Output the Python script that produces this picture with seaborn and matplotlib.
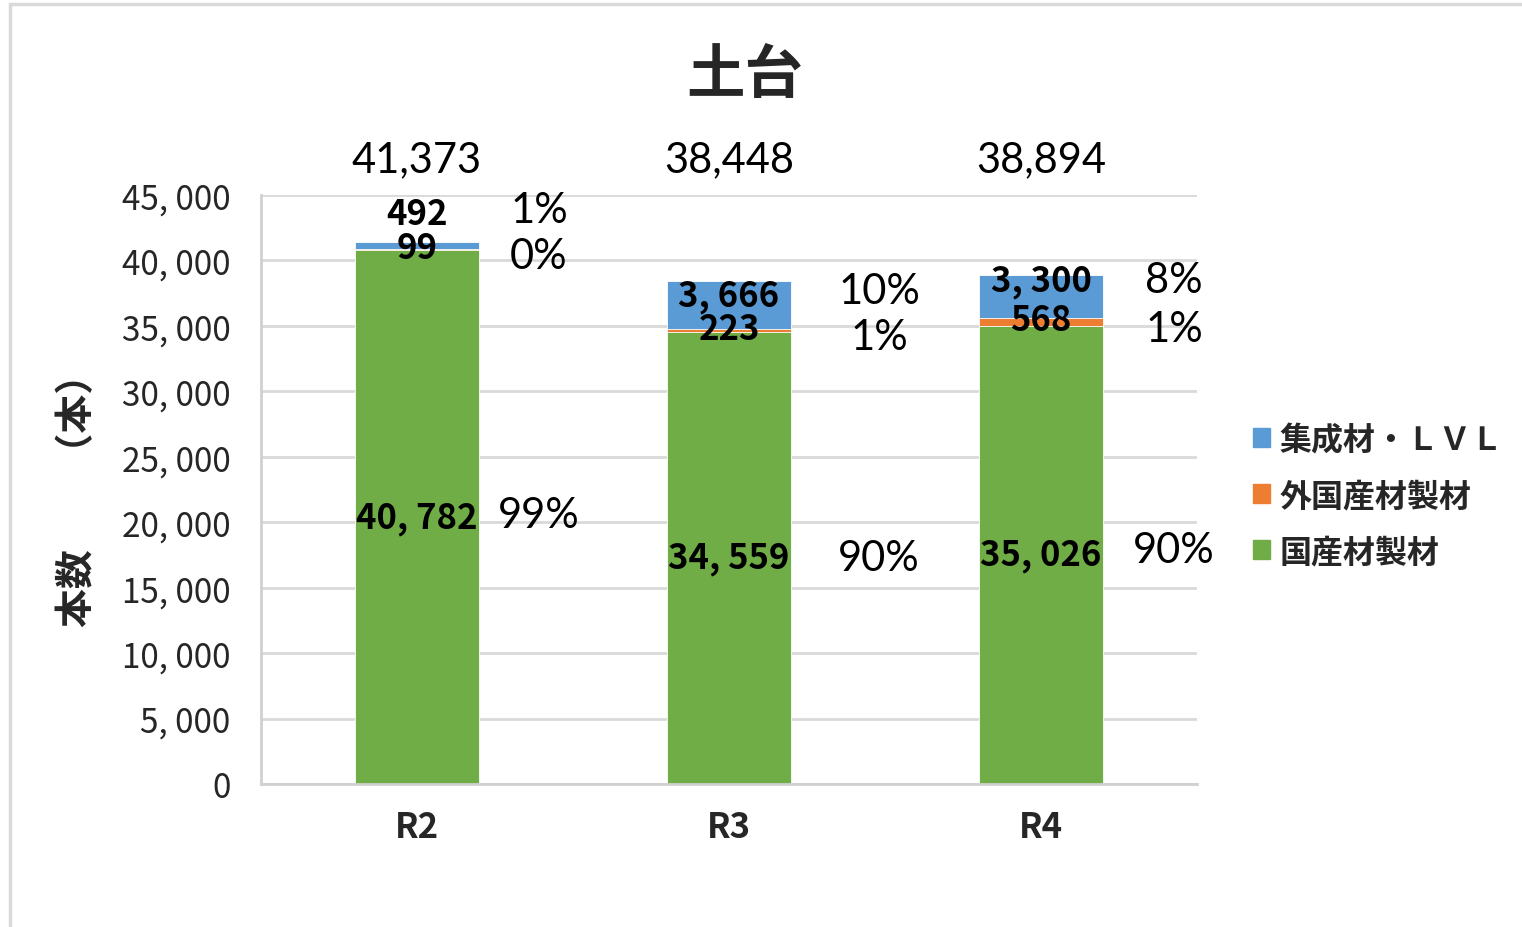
import matplotlib
matplotlib.use("Agg")
import matplotlib.pyplot as plt
import seaborn as sns
import pandas as pd
from matplotlib.patches import Patch, Rectangle
from matplotlib.ticker import MultipleLocator, FuncFormatter

# ─────────────────────────────────────────────
# données
# ─────────────────────────────────────────────
years = ["R2", "R3", "R4"]
kokusan = [40782, 34559, 35026]      # 国産材製材
gaikoku = [99, 223, 568]             # 外国産材製材
shusei = [492, 3666, 3300]           # 集成材・ＬＶＬ
series_names = ["国産材製材", "外国産材製材", "集成材・ＬＶＬ"]
colors = ["#70ad47", "#ed7d31", "#5b9bd5"]

totals = [a + b + c for a, b, c in zip(kokusan, gaikoku, shusei)]

sns.set_theme(style="white")
plt.rcParams["font.family"] = ["Noto Sans CJK JP", "DejaVu Sans"]
latin = ["Lato", "DejaVu Sans"]

fig = plt.figure(figsize=(15.22, 9.28), dpi=100)
ax = fig.add_axes([0.1715, 0.1541, 0.615, 0.6347])

# barres empilées : on dessine les cumuls du haut vers le bas
df = pd.DataFrame({"year": years,
                   "c3": totals,
                   "c2": [a + b for a, b in zip(kokusan, gaikoku)],
                   "c1": kokusan})
for col, color in zip(["c3", "c2", "c1"], colors[::-1]):
    sns.barplot(data=df, x="year", y=col, color=color, width=0.4,
                saturation=1, ax=ax, edgecolor="white", linewidth=0.6)

ax.set_ylim(0, 45000)
ax.set_xlim(-0.5, 2.5)
ax.yaxis.set_major_locator(MultipleLocator(5000))
ax.yaxis.set_major_formatter(FuncFormatter(lambda v, p: f"{int(v):,}".replace(",", ", ")))
ax.grid(axis="y", color="#d9d9d9", linewidth=2)
ax.set_axisbelow(True)
for s in ["top", "right"]:
    ax.spines[s].set_visible(False)
for s in ["left", "bottom"]:
    ax.spines[s].set_color("#d0d0d0")
    ax.spines[s].set_linewidth(2)
ax.tick_params(axis="y", length=0, pad=22, labelsize=24)
ax.tick_params(axis="x", length=0, pad=18)
for lab in ax.get_xticklabels():
    lab.set_fontsize(25)
    lab.set_fontweight("bold")
ax.set_xlabel("")
ax.set_ylabel("本数　　（本）", fontsize=28, fontweight="bold", labelpad=18)

# étiquettes de valeurs et pourcentages
lab_dy = {"c1": [0, 0, 0], "c2": [2, 2, 2], "c3": [32, 9, 16]}
pct_dy = {"c1": [2, 0, 5], "c2": [-6, -7, -7], "c3": [36, 14, 17]}
pct_dx = [122, 150, 133]
for i in range(len(years)):
    segs = [("c1", 0, kokusan[i]),
            ("c2", kokusan[i], gaikoku[i]),
            ("c3", kokusan[i] + gaikoku[i], shusei[i])]
    for key, base, val in segs:
        mid = base + val / 2
        ax.annotate(f"{val:,}".replace(",", ", "), (i, mid),
                    xytext=(0, lab_dy[key][i]), textcoords="offset pixels",
                    ha="center", va="center", fontsize=25, fontweight="bold",
                    color="black")
        pct = round(val / totals[i] * 100)
        ax.annotate(f"{pct}%", (i, mid),
                    xytext=(pct_dx[i], pct_dy[key][i]), textcoords="offset pixels",
                    ha="center", va="center", fontsize=30, family=latin,
                    color="black")
    ax.annotate(f"{totals[i]:,}", (i, 45000), xytext=(0, 36),
                textcoords="offset pixels", ha="center", va="center",
                fontsize=30, family=latin, color="black", annotation_clip=False)

fig.text(745 / 1522, 1 - 76 / 928, "土台", ha="center", va="center",
         fontsize=42, fontweight="bold")

handles = [Patch(color=c) for c in colors[::-1]]
fig.legend(handles, series_names[::-1], loc="center left",
           bbox_to_anchor=(1224 / 1522, 1 - 497 / 928), frameon=False,
           prop={"size": 23, "weight": "bold"}, handlelength=0.55,
           handleheight=0.55, handletextpad=0.3, labelspacing=0.75)

# cadre gris du graphique
fig.patches.append(Rectangle((10 / 1522, -0.1), 1.2, 1.1 - 5 / 928,
                             transform=fig.transFigure, fill=False,
                             edgecolor="#d9d9d9", linewidth=2.5))

fig.savefig("out.png", dpi=100)
